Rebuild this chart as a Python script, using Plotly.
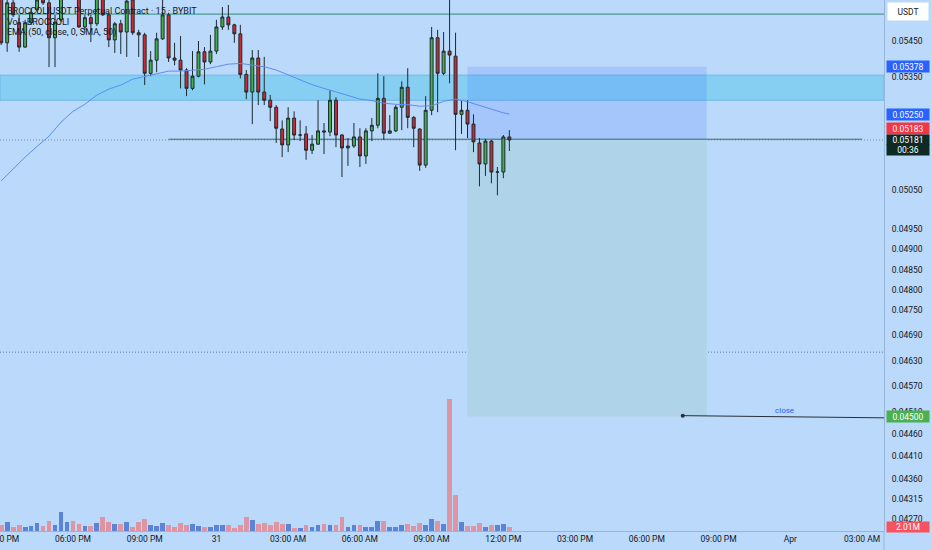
import math
import pandas as pd
import plotly.graph_objects as go

FONT = "Roboto"
TXT = "#131722"
BG = "#bbd9fa"

# ---------------- data ----------------
start_time = "2025-03-30 15:00"
n_bars = 86
times = pd.date_range(start_time, periods=n_bars, freq="15min")

opens = [0.05592, 0.05444, 0.05556, 0.05500, 0.05432, 0.05500, 0.05536, 0.05570, 0.05556, 0.05458,
         0.05508, 0.05578, 0.05620, 0.05578, 0.05488, 0.05514, 0.05497, 0.05572, 0.05522, 0.05452,
         0.05497, 0.05474, 0.05564, 0.05472, 0.05466, 0.05360, 0.05396, 0.05455, 0.05522, 0.05402,
         0.05396, 0.05369, 0.05319, 0.05352, 0.05419, 0.05391, 0.05421, 0.05488, 0.05516, 0.05494,
         0.05469, 0.05357, 0.05309, 0.05402, 0.05309, 0.05287, 0.05268, 0.05210, 0.05168, 0.05239,
         0.05194, 0.05197, 0.05154, 0.05170, 0.05205, 0.05202, 0.05287, 0.05194, 0.05160, 0.05165,
         0.05189, 0.05139, 0.05205, 0.05220, 0.05292, 0.05199, 0.05205, 0.05268, 0.05322, 0.05241,
         0.05210, 0.05115, 0.05260, 0.05458, 0.05360, 0.05421, 0.05407, 0.05249, 0.05260, 0.05223,
         0.05173, 0.05118, 0.05178, 0.05097, 0.05097, 0.05189]
highs = [0.05620, 0.05578, 0.05572, 0.05522, 0.05508, 0.05542, 0.05586, 0.05586, 0.05564, 0.05522,
         0.05592, 0.05648, 0.05648, 0.05592, 0.05522, 0.05522, 0.05586, 0.05586, 0.05528, 0.05502,
         0.05508, 0.05578, 0.05586, 0.05480, 0.05472, 0.05421, 0.05472, 0.05570, 0.05528, 0.05444,
         0.05463, 0.05374, 0.05421, 0.05449, 0.05432, 0.05466, 0.05508, 0.05544, 0.05550, 0.05497,
         0.05494, 0.05369, 0.05424, 0.05424, 0.05405, 0.05301, 0.05274, 0.05233, 0.05268, 0.05257,
         0.05233, 0.05218, 0.05194, 0.05287, 0.05226, 0.05314, 0.05295, 0.05197, 0.05186, 0.05226,
         0.05212, 0.05212, 0.05239, 0.05360, 0.05352, 0.05247, 0.05274, 0.05338, 0.05374, 0.05244,
         0.05212, 0.05298, 0.05488, 0.05480, 0.05474, 0.05640, 0.05472, 0.05287, 0.05287, 0.05249,
         0.05186, 0.05184, 0.05181, 0.05110, 0.05194, 0.05207]
lows = [0.05438, 0.05419, 0.05516, 0.05419, 0.05430, 0.05494, 0.05530, 0.05550, 0.05377, 0.05377,
        0.05502, 0.05564, 0.05570, 0.05486, 0.05472, 0.05446, 0.05491, 0.05519, 0.05432, 0.05416,
        0.05413, 0.05405, 0.05466, 0.05405, 0.05328, 0.05352, 0.05363, 0.05452, 0.05391, 0.05382,
        0.05319, 0.05298, 0.05314, 0.05349, 0.05330, 0.05385, 0.05413, 0.05480, 0.05480, 0.05444,
        0.05346, 0.05290, 0.05223, 0.05274, 0.05274, 0.05231, 0.05173, 0.05136, 0.05149, 0.05181,
        0.05178, 0.05129, 0.05144, 0.05168, 0.05144, 0.05191, 0.05162, 0.05084, 0.05113, 0.05160,
        0.05110, 0.05118, 0.05178, 0.05212, 0.05181, 0.05197, 0.05202, 0.05207, 0.05212, 0.05162,
        0.05100, 0.05108, 0.05247, 0.05255, 0.05355, 0.05333, 0.05154, 0.05197, 0.05186, 0.05149,
        0.05060, 0.05087, 0.05068, 0.05037, 0.05081, 0.05152]
closes = [0.05444, 0.05556, 0.05522, 0.05432, 0.05500, 0.05528, 0.05564, 0.05556, 0.05458, 0.05502,
          0.05578, 0.05620, 0.05586, 0.05488, 0.05514, 0.05497, 0.05572, 0.05522, 0.05452, 0.05497,
          0.05474, 0.05561, 0.05472, 0.05466, 0.05360, 0.05396, 0.05455, 0.05522, 0.05402, 0.05396,
          0.05369, 0.05319, 0.05352, 0.05419, 0.05391, 0.05421, 0.05488, 0.05516, 0.05494, 0.05469,
          0.05357, 0.05309, 0.05402, 0.05309, 0.05287, 0.05268, 0.05212, 0.05168, 0.05239, 0.05194,
          0.05194, 0.05154, 0.05170, 0.05205, 0.05202, 0.05287, 0.05194, 0.05160, 0.05165, 0.05189,
          0.05139, 0.05205, 0.05220, 0.05292, 0.05199, 0.05205, 0.05268, 0.05322, 0.05241, 0.05212,
          0.05115, 0.05260, 0.05458, 0.05360, 0.05421, 0.05410, 0.05249, 0.05260, 0.05223, 0.05176,
          0.05118, 0.05178, 0.05097, 0.05097, 0.05189, 0.05181]
volumes_m = [2.8, 4.0, 1.7, 2.6, 2.0, 2.3, 3.6, 2.3, 4.5, 2.6,
             9.0, 4.3, 4.8, 3.3, 2.3, 2.3, 3.9, 6.5, 4.2, 3.3,
             3.3, 4.2, 1.7, 4.2, 5.4, 2.6, 2.3, 3.6, 2.6, 2.0,
             3.6, 2.9, 3.3, 2.3, 2.0, 1.7, 2.9, 2.9, 2.9, 1.4,
             2.6, 6.4, 5.1, 3.3, 3.6, 2.6, 4.2, 3.3, 3.3, 1.4,
             1.4, 2.6, 2.0, 2.9, 3.3, 2.9, 2.6, 6.4, 2.0, 2.6,
             2.6, 2.0, 1.7, 4.8, 4.8, 2.0, 1.7, 2.6, 3.3, 2.3,
             3.6, 2.9, 5.7, 4.8, 3.3, 61.4, 16.7, 4.2, 2.3, 2.3,
             3.6, 1.7, 2.9, 2.9, 3.3, 2.01]

ema_bar = [0, 2, 4, 6, 8, 10, 12, 14, 16, 18, 20, 22, 24, 26, 28, 30, 32, 34, 36, 38,
           40, 42, 44, 46, 48, 50, 52, 54, 56, 58, 60, 62, 64, 66, 68, 70, 72, 74, 76, 78,
           80, 82, 84, 85]
ema_vals = [0.05074, 0.05105, 0.05136, 0.05164, 0.05191, 0.05228, 0.05257, 0.05276, 0.05301, 0.05317,
            0.05328, 0.05344, 0.05352, 0.05360, 0.05366, 0.05366, 0.05369, 0.05371, 0.05378, 0.05385,
            0.05387, 0.05382, 0.05378, 0.05369, 0.05355, 0.05341, 0.05329, 0.05319, 0.05309, 0.05298,
            0.05290, 0.05286, 0.05279, 0.05276, 0.05275, 0.05271, 0.05272, 0.05284, 0.05290, 0.05283,
            0.05272, 0.05263, 0.05253, 0.05250]

tick_prices = [0.05450, 0.05350, 0.05250, 0.05150, 0.05050, 0.04950, 0.04900, 0.04850, 0.04800,
               0.04750, 0.04690, 0.04630, 0.04570, 0.04510, 0.04460, 0.04410, 0.04360, 0.04315, 0.04270]
tick_labels = ["%.5f" % p for p in tick_prices]

x_tick_times = ["2025-03-30 15:00", "2025-03-30 18:00", "2025-03-30 21:00", "2025-03-31 00:00",
                "2025-03-31 03:00", "2025-03-31 06:00", "2025-03-31 09:00", "2025-03-31 12:00",
                "2025-03-31 15:00", "2025-03-31 18:00", "2025-03-31 21:00", "2025-04-01 00:00",
                "2025-04-01 03:00"]
x_tick_labels = ["03:00 PM", "06:00 PM", "09:00 PM", "31", "03:00 AM", "06:00 AM", "09:00 AM",
                 "12:00 PM", "03:00 PM", "06:00 PM", "09:00 PM", "Apr", "03:00 AM"]

x_range = ["2025-03-30 14:57", "2025-04-01 03:55"]

zone_top, zone_bottom = 0.05355, 0.05287
resistance = 0.05524
ray_level, ray_start, ray_end = 0.05183, "2025-03-30 22:00", "2025-04-01 03:00"
last_price = 0.05181
dotted_level = 0.04650
pos_entry, pos_stop, pos_target = 0.05183, 0.05378, 0.04500
pos_start, pos_end = "2025-03-31 10:30", "2025-03-31 20:30"
close_line_t = ["2025-03-31 19:30", "2025-04-01 03:55"]
close_line_p = [0.04502, 0.04497]
close_text_t = "2025-03-31 23:45"

last_volume = 2.01
ema_last = 0.05250

# ---------------- figure ----------------
fig = go.Figure()

# EMA 50
fig.add_trace(go.Scatter(x=[times[i] for i in ema_bar], y=ema_vals, mode="lines",
                         line=dict(color="#5b8ef0", width=1), hoverinfo="skip", showlegend=False))

# candles
fig.add_trace(go.Candlestick(
    x=times, open=opens, high=highs, low=lows, close=closes,
    increasing=dict(line=dict(color="#1d2b30", width=1), fillcolor="#45ae4b"),
    decreasing=dict(line=dict(color="#1d2b30", width=1), fillcolor="#cc2a33"),
    whiskerwidth=0, hoverinfo="skip", showlegend=False))

# volume
vol_colors = ["#5c84d6" if c >= o else "#dd95a3" for o, c in zip(opens, closes)]
fig.add_trace(go.Bar(x=times, y=volumes_m, yaxis="y2", marker=dict(color=vol_colors, line=dict(width=0)),
                     width=15 * 60 * 1000 * 0.8, hoverinfo="skip", showlegend=False))

# close trend line (drawing)
fig.add_trace(go.Scatter(x=close_line_t, y=close_line_p, mode="lines",
                         line=dict(color="#2a2e39", width=1), hoverinfo="skip", showlegend=False))
fig.add_trace(go.Scatter(x=close_line_t[:1], y=close_line_p[:1], mode="markers",
                         marker=dict(color="#2a2e39", size=4), hoverinfo="skip", showlegend=False))

# ---------------- layout ----------------
y_lo, y_hi = 0.04245, 0.05564

fig.update_layout(
    width=932, height=550, autosize=False,
    margin=dict(l=0, r=48, t=0, b=19, pad=0),
    paper_bgcolor=BG, plot_bgcolor=BG,
    font=dict(family=FONT, size=8.5, color=TXT),
    showlegend=False, hovermode=False,
    xaxis=dict(type="date", range=x_range, rangeslider=dict(visible=False),
               tickvals=x_tick_times, ticktext=x_tick_labels, tickangle=0,
               ticklabeloverflow="allow", automargin=False,
               showgrid=False, zeroline=False, showline=True, linecolor="#97b5d7", linewidth=1,
               ticks="", tickfont=dict(family=FONT, size=8.5, color=TXT)),
    yaxis=dict(type="log", range=[math.log10(y_lo), math.log10(y_hi)], side="right",
               tickvals=tick_prices, ticktext=tick_labels, showgrid=False, zeroline=False,
               showline=True, linecolor="#97b5d7", linewidth=1, ticks="", ticklabelstandoff=5,
               automargin=False, tickfont=dict(family=FONT, size=8.5, color=TXT)),
    yaxis2=dict(overlaying="y", range=[0, 247], visible=False, fixedrange=True),
    bargap=0,
)

# shapes (drawn below the candles)
def band(y0, y1, fill, line_color=None):
    fig.add_shape(type="rect", xref="paper", x0=0, x1=1, yref="y", y0=y0, y1=y1, layer="below",
                  fillcolor=fill, line=dict(width=1 if line_color else 0, color=line_color or fill))


def box(x0, x1, y0, y1, fill):
    fig.add_shape(type="rect", xref="x", x0=x0, x1=x1, yref="y", y0=y0, y1=y1, layer="below",
                  fillcolor=fill, line=dict(width=0))


def level(y, color, width=1, dash="solid", x0=None, x1=None):
    if x0 is None:
        fig.add_shape(type="line", xref="paper", x0=0, x1=1, yref="y", y0=y, y1=y, layer="below",
                      line=dict(color=color, width=width, dash=dash))
    else:
        fig.add_shape(type="line", xref="x", x0=x0, x1=x1, yref="y", y0=y, y1=y, layer="below",
                      line=dict(color=color, width=width, dash=dash))


band(zone_bottom, zone_top, "#86cff3", "#6db7e8")
box(pos_start, pos_end, pos_entry, pos_stop, "rgba(41,98,255,0.16)")
box(pos_start, pos_end, pos_target, pos_entry, "#afd3e8")
level(resistance, "#4e9a92", 1.3)
level(dotted_level, "#5b7fb8", 1, "1px,2px")
level(last_price, "#7d8c9c", 1, "1px,2px")
level(ray_level, "#2f6d6a", 1, "solid", ray_start, ray_end)

fig.add_shape(type="line", xref="paper", yref="paper", x0=1, x1=1, y0=0, y1=-19 / 531,
              line=dict(color="#97b5d7", width=1))

ann = []


def right_label(text, y, yref, bg, fg="#ffffff", yshift=0, height=11):
    return dict(xref="paper", x=1, xanchor="left", xshift=2, yref=yref, y=y, yanchor="middle",
                yshift=yshift, text=text, showarrow=False, bgcolor=bg, width=42, height=height,
                borderpad=0, align="center", font=dict(family=FONT, size=8.5, color=fg))


ann.append(dict(xref="paper", x=1, xanchor="left", xshift=3, yref="paper", y=1 - 11.5 / 531,
                yanchor="middle", text="USDT", showarrow=False, bgcolor="#ffffff", width=40, height=17,
                borderpad=0, font=dict(family=FONT, size=8.5, color=TXT)))
ann.append(right_label("%.5f" % pos_stop, math.log10(pos_stop), "y", "#2962ff"))
ann.append(right_label("%.5f" % ema_last, math.log10(ema_last), "y", "#2962ff"))
ann.append(right_label("%.5f" % ray_level, math.log10(ray_level), "y", "#f23645", yshift=10.6))
ann.append(right_label("%.5f" % last_price, math.log10(last_price), "y", "#0e2a24", height=10))
ann.append(right_label("00:36", math.log10(last_price), "y", "#0e2a24", yshift=-9.6, height=10))
ann.append(right_label("%.5f" % pos_target, math.log10(pos_target), "y", "#4caf50"))
ann.append(right_label("%.2fM" % last_volume, last_volume, "y2", "#f7525f", height=10))

ann.append(dict(x=close_text_t, y=math.log10(pos_target), xref="x", yref="y", text="close",
                showarrow=False, yshift=6, font=dict(family=FONT, size=8, color="#2962ff")))

legend_lines = ["BROCCOLIUSDT Perpetual Contract · 15 · BYBIT", "Vol · BROCCOLI",
                "EMA (50, close, 0, SMA, 50)"]
for k, t in enumerate(legend_lines):
    ann.append(dict(xref="paper", x=0, xanchor="left", xshift=5, yref="paper",
                    y=1 - (11 + 11 * k) / 531, yanchor="middle", text=t, showarrow=False,
                    font=dict(family=FONT, size=9, color=TXT)))

fig.update_layout(annotations=ann)

fig.write_html("out.html", config={"displayModeBar": False},
               post_script="document.body.style.margin='0';document.body.style.overflow='hidden';")
